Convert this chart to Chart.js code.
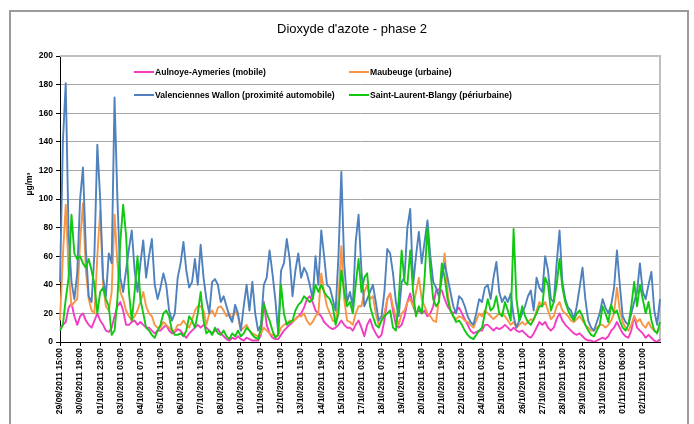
<!DOCTYPE html>
<html>
<head>
<meta charset="utf-8">
<title>Dioxyde d'azote - phase 2</title>
<script src="https://cdn.jsdelivr.net/npm/chart.js@4.4.0/dist/chart.umd.min.js"></script>
<style>
  html, body { margin: 0; padding: 0; background: #ffffff; }
  canvas { display: block; }
</style>
</head>
<body>
<canvas id="no2" width="694" height="424"></canvas>
<script>
// NO2 concentrations (µg/m³), one value every 4 hours from 29/09/2011 15:00.
// Each row covers the 28 hours between two labelled ticks.

const tickLabels = [
  "29/09/2011 15:00", "30/09/2011 19:00", "01/10/2011 23:00", "03/10/2011 03:00",
  "04/10/2011 07:00", "05/10/2011 11:00", "06/10/2011 15:00", "07/10/2011 19:00",
  "08/10/2011 23:00", "10/10/2011 03:00", "11/10/2011 07:00", "12/10/2011 11:00",
  "13/10/2011 15:00", "14/10/2011 19:00", "15/10/2011 23:00", "17/10/2011 03:00",
  "18/10/2011 07:00", "19/10/2011 11:00", "20/10/2011 15:00", "21/10/2011 19:00",
  "22/10/2011 23:00", "24/10/2011 03:00", "25/10/2011 07:00", "26/10/2011 11:00",
  "27/10/2011 15:00", "28/10/2011 19:00", "29/10/2011 23:00", "31/10/2011 02:00",
  "01/11/2011 06:00", "02/11/2011 10:00"
];
const samplesPerTick = 7;

const seriesNames = [
  "Aulnoye-Aymeries (mobile)",
  "Maubeuge (urbaine)",
  "Valenciennes Wallon (proximité automobile)",
  "Saint-Laurent-Blangy (périurbaine)"
];

const aulnoye = [
  10, 12, 14, 24, 27, 18, 12,
  18, 20, 15, 12, 10, 15, 20,
  15, 12, 8, 7, 10, 18, 25,
  28, 22, 12, 12, 14, 15, 12,
  14, 12, 10, 10, 8, 6, 8,
  8, 10, 12, 8, 6, 7, 9,
  8, 5, 3, 6, 8, 10, 12,
  10, 12, 10, 8, 6, 8, 9,
  6, 4, 2, 1, 3, 2, 4,
  2, 1, 3, 2, 1, 1, 1,
  5, 28, 12, 6, 3, 2, 2,
  5, 8, 10, 12, 14, 16, 18,
  20, 24, 30, 32, 28, 22, 20,
  18, 14, 12, 10, 9, 10, 12,
  15, 12, 10, 10, 8, 12, 15,
  10, 4, 12, 16, 10, 6, 3,
  5, 15, 30, 34, 22, 12, 10,
  12, 18, 28, 34, 25, 20, 22,
  20, 22, 18, 20, 25, 36, 37,
  36, 30, 25, 22, 20, 22, 24,
  20, 16, 12, 8, 6, 7, 8,
  8, 12, 12, 10, 8, 10, 9,
  10, 12, 10, 8, 10, 8, 7,
  8, 6, 4, 3, 6, 10, 14,
  12, 14, 10, 8, 10, 16, 20,
  15, 12, 10, 8, 6, 5, 6,
  4, 2, 1, 1, 0, 1, 2,
  3, 2, 4, 8, 10, 14, 10,
  6, 4, 3, 8, 18, 10, 8,
  6, 3, 5, 3, 1, 0, 2
];

const maubeuge = [
  15, 60, 96, 50, 25, 28, 30,
  70, 97, 50, 30, 22, 20, 60,
  92, 40, 25, 22, 35, 89, 55,
  35, 30, 22, 18, 15, 18, 22,
  28, 35, 25, 20, 18, 12, 10,
  10, 14, 12, 10, 8, 8, 12,
  12, 15, 12, 10, 15, 22, 25,
  25, 22, 12, 20, 22, 18, 24,
  25, 22, 18, 20, 16, 22, 18,
  8, 10, 12, 8, 6, 5, 4,
  6, 10, 8, 6, 5, 4, 5,
  10, 12, 13, 15, 14, 16, 18,
  18, 20, 15, 12, 14, 18, 20,
  48, 35, 25, 20, 15, 14, 30,
  67, 30, 15, 14, 12, 20, 25,
  25, 35, 40, 30, 32, 20, 12,
  15, 20, 30, 34, 25, 18, 12,
  20, 22, 28, 30, 25, 35, 45,
  30, 25, 20, 18, 15, 14, 30,
  45, 62, 35, 22, 18, 16, 18,
  17, 15, 14, 12, 10, 15, 20,
  18, 22, 20, 18, 16, 18, 20,
  20, 18, 15, 12, 14, 10, 12,
  14, 12, 14, 16, 15, 22, 28,
  25, 28, 22, 16, 18, 25, 28,
  22, 20, 18, 15, 14, 16, 18,
  15, 12, 10, 8, 8, 10, 12,
  12, 10, 12, 15, 20, 38, 22,
  14, 10, 8, 12, 18, 14, 16,
  12, 10, 14, 10, 8, 7, 10
];

const valenciennes = [
  42, 140, 181, 75, 42, 30, 48,
  100, 122, 65, 32, 28, 62, 138,
  100, 45, 32, 62, 55, 171, 100,
  45, 35, 50, 65, 78, 50, 35,
  55, 71, 45, 60, 72, 40, 30,
  38, 48, 40, 22, 15, 20, 45,
  55, 70, 50, 38, 42, 58, 40,
  68, 45, 30, 20, 42, 44, 40,
  28, 32, 25, 18, 14, 26, 20,
  8, 25, 40, 22, 42, 20, 8,
  12, 40, 45, 64, 48, 30, 6,
  50, 55, 72, 58, 32, 50, 62,
  45, 52, 48, 40, 30, 60, 40,
  78, 60, 40, 38, 30, 22, 60,
  119, 55, 28, 35, 25, 70, 89,
  50, 25, 30, 35, 40, 28, 15,
  18, 35, 65, 62, 48, 28, 18,
  42, 45, 80, 93, 40, 60, 77,
  55, 70, 85, 60, 42, 38, 32,
  45, 55, 45, 35, 25, 20, 32,
  30, 25, 18, 14, 12, 20, 30,
  28, 38, 40, 30, 45, 56, 35,
  28, 32, 28, 34, 18, 10, 15,
  20, 25, 32, 36, 22, 45, 38,
  35, 60, 50, 30, 28, 55, 78,
  42, 30, 24, 22, 16, 25, 38,
  52, 30, 15, 10, 8, 14, 20,
  30, 24, 20, 26, 38, 64, 40,
  18, 14, 12, 20, 28, 35, 55,
  35, 30, 40, 49, 22, 12, 30
];

const saintLaurent = [
  8, 12, 30, 45, 89, 62, 58,
  60, 55, 52, 58, 50, 40, 20,
  35, 38, 30, 25, 5, 8, 30,
  70, 96, 75, 35, 15, 35, 60,
  30, 20, 10, 8, 5, 3, 8,
  12, 20, 22, 18, 8, 5, 5,
  6, 4, 8, 18, 15, 10, 20,
  35, 15, 6, 8, 5, 10, 6,
  5, 8, 4, 2, 6, 4, 8,
  4, 6, 10, 8, 5, 3, 2,
  10, 27, 20, 15, 8, 3, 5,
  40, 20, 12, 14, 15, 22, 26,
  28, 32, 30, 28, 30, 40, 35,
  40, 35, 32, 30, 25, 12, 20,
  50, 35, 25, 28, 20, 40, 58,
  35, 45, 48, 25, 18, 12, 10,
  15, 18, 20, 22, 10, 8, 30,
  64, 42, 40, 64, 35, 18, 25,
  20, 45, 80, 50, 30, 25, 28,
  55, 45, 30, 22, 18, 14, 15,
  12, 8, 5, 3, 2, 5, 8,
  10, 20, 30, 22, 24, 32, 20,
  18, 28, 22, 15, 79, 30, 15,
  25, 18, 14, 12, 16, 20, 25,
  25, 45, 40, 22, 28, 40, 58,
  38, 28, 22, 18, 15, 20, 22,
  18, 12, 8, 5, 4, 8, 12,
  25, 20, 14, 26, 20, 22, 15,
  10, 8, 12, 25, 42, 25, 40,
  30, 20, 28, 15, 8, 6, 14
];

const seriesColors = ["#f23cc4", "#f79646", "#4f81bd", "#11c811"];

// Category labels: only every 7th sample carries a date.
const categories = aulnoye.map((_, i) =>
  i % samplesPerTick === 0 ? (tickLabels[i / samplesPerTick] || "") : "");

const FONT = '"Liberation Sans", Arial, sans-serif';

// Frame, title, unit label, plot border and in-plot legend.
const decorPlugin = {
  id: "decor",
  beforeDraw(chart) {
    const ctx = chart.ctx;
    ctx.save();
    ctx.fillStyle = "#ffffff";
    ctx.fillRect(0, 0, chart.width, chart.height);
    ctx.strokeStyle = "#9a9a9a";
    ctx.lineWidth = 2;
    ctx.strokeRect(10, 11, 678, 440);
    ctx.restore();
  },
  beforeDatasetsDraw(chart) {
    const ctx = chart.ctx;
    const a = chart.chartArea;
    ctx.save();
    ctx.strokeStyle = "#bfbfbf";
    ctx.lineWidth = 2;
    ctx.beginPath();
    ctx.moveTo(a.left, a.top);
    ctx.lineTo(a.right, a.top);
    ctx.lineTo(a.right, a.bottom);
    ctx.stroke();
    ctx.restore();
  },
  afterDraw(chart) {
    const ctx = chart.ctx;
    const a = chart.chartArea;
    ctx.save();
    // title
    ctx.fillStyle = "#000000";
    ctx.font = "13px " + FONT;
    ctx.textAlign = "center";
    ctx.textBaseline = "alphabetic";
    ctx.fillText("Dioxyde d'azote - phase 2", 352, 33);
    // unit
    ctx.save();
    ctx.translate(30, 184);
    ctx.rotate(-Math.PI / 2);
    ctx.font = "bold 8.5px " + FONT;
    ctx.textAlign = "center";
    ctx.textBaseline = "middle";
    ctx.fillText("µg/m³", 0, 0);
    ctx.restore();
    // legend, two rows of two entries
    const cols = [a.left + 74, a.left + 289];
    const rows = [a.top + 16, a.top + 39];
    ctx.font = "bold 8.6px " + FONT;
    ctx.textAlign = "left";
    ctx.textBaseline = "middle";
    seriesNames.forEach((name, k) => {
      const x = cols[k % 2];
      const y = rows[Math.floor(k / 2)];
      ctx.strokeStyle = seriesColors[k];
      ctx.lineWidth = 2;
      ctx.beginPath();
      ctx.moveTo(x, y);
      ctx.lineTo(x + 20, y);
      ctx.stroke();
      ctx.fillStyle = "#000000";
      ctx.fillText(name, x + 21, y + 0.5);
    });
    ctx.restore();
  }
};

const seriesData = [aulnoye, maubeuge, valenciennes, saintLaurent];
// later series are painted over earlier ones
const datasets = seriesData.map((values, k) => ({
  label: seriesNames[k],
  data: values,
  borderColor: seriesColors[k],
  backgroundColor: seriesColors[k],
  borderWidth: 1.9,
  pointRadius: 0,
  tension: 0,
  borderJoinStyle: "round",
  fill: false,
  order: seriesData.length - k
}));

new Chart(document.getElementById("no2"), {
  type: "line",
  data: { labels: categories, datasets },
  options: {
    responsive: false,
    animation: false,
    events: [],
    layout: { padding: { left: 10, top: 56, right: 34, bottom: 0 } },
    plugins: {
      legend: { display: false },
      title: { display: false },
      tooltip: { enabled: false }
    },
    scales: {
      x: {
        type: "category",
        offset: false,
        border: { display: true, color: "#000000", width: 1 },
        grid: {
          drawOnChartArea: false,
          drawTicks: true,
          tickLength: 4,
          color: "rgba(0,0,0,0)",
          tickColor: (c) => (c.index % samplesPerTick === 0 ? "#000000" : "rgba(0,0,0,0)"),
          tickBorderDash: []
        },
        ticks: {
          autoSkip: false,
          minRotation: 90,
          maxRotation: 90,
          padding: 2,
          color: "#000000",
          font: { family: FONT, size: 8.5, weight: "bold" },
          callback: (value, index) => categories[index]
        },
        afterFit: (scale) => { scale.height = 82; }
      },
      y: {
        min: 0,
        max: 200,
        border: { display: true, color: "#000000", width: 1 },
        grid: {
          color: "#a6a6a6",
          lineWidth: 1,
          borderDash: [2, 2],
          drawTicks: true,
          tickLength: 4,
          tickColor: "#000000",
          tickBorderDash: []
        },
        ticks: {
          stepSize: 20,
          padding: 3,
          color: "#000000",
          font: { family: FONT, size: 8.5, weight: "bold" }
        },
        afterFit: (scale) => { scale.width = 50; }
      }
    }
  },
  plugins: [decorPlugin]
});
</script>
</body>
</html>
